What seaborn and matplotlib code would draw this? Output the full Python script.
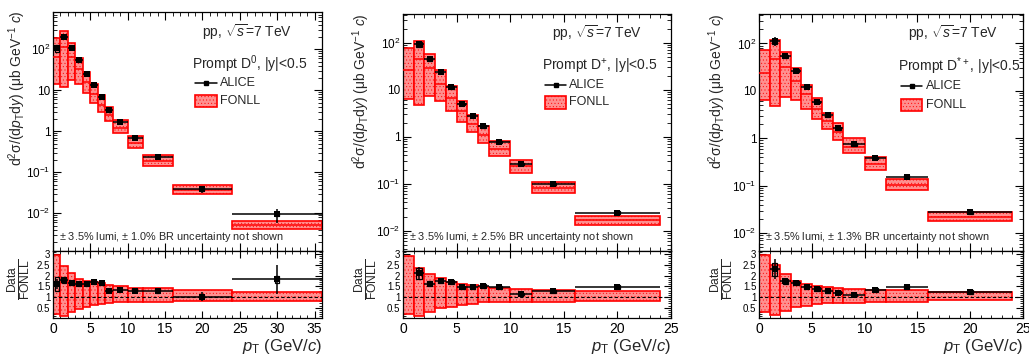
import numpy as np
import matplotlib
matplotlib.use('Agg')
import matplotlib.pyplot as plt
import seaborn as sns
from matplotlib.ticker import MultipleLocator, FixedLocator, FixedFormatter, LogLocator, NullFormatter
from matplotlib.patches import Rectangle
from matplotlib.lines import Line2D

# ---- D0 ----
d0_edges = [0, 1, 2, 3, 4, 5, 6, 7, 8, 10, 12, 16, 24, 36]
d0_val = [104, 200, 108, 53, 25.3, 13.6, 7.0, 3.2, 1.65, 0.68, 0.24, 0.038, 0.0094]
d0_stat = [0.15, 0.06, 0.05, 0.04, 0.04, 0.04, 0.04, 0.05, 0.05, 0.06, 0.08, 0.2, 0.38]
d0_syst = [0.2, 0.07, 0.06, 0.06, 0.06, 0.06, 0.06, 0.06, 0.06, 0.06, 0.07, 0.08, 0.1]
d0_fedges = d0_edges
d0_fc = [64, 111, 66, 33, 15.8, 8.0, 4.3, 2.46, 1.22, 0.52, 0.185, 0.037, 0.0052]
d0_fhi = [189, 276, 143, 61, 27.8, 13.9, 7.5, 3.86, 1.85, 0.75, 0.26, 0.05, 0.0065]
d0_flo = [14.4, 11.9, 18, 14.4, 8.7, 4.9, 2.9, 1.78, 0.91, 0.4, 0.143, 0.03, 0.0042]
d0_ratio = [1.62, 1.8, 1.64, 1.6, 1.6, 1.7, 1.64, 1.3, 1.35, 1.3, 1.3, 1.02, 1.82]
d0_rhi = [2.95, 2.45, 2.12, 1.86, 1.76, 1.7, 1.65, 1.55, 1.5, 1.44, 1.4, 1.33, 1.25]
d0_rlo = [0.23, 0.1, 0.28, 0.44, 0.55, 0.61, 0.67, 0.72, 0.75, 0.77, 0.77, 0.8, 0.82]

# ---- D+ ----
dp_edges = [1, 2, 3, 4, 5, 6, 7, 8, 10, 12, 16, 24]
dp_val = [94, 45.5, 23.7, 11.3, 4.97, 2.75, 1.66, 0.78, 0.26, 0.1, 0.0243]
dp_stat = [0.14, 0.07, 0.05, 0.04, 0.04, 0.05, 0.05, 0.05, 0.06, 0.07, 0.1]
dp_syst = [0.12, 0.08, 0.06, 0.06, 0.06, 0.06, 0.06, 0.06, 0.06, 0.06, 0.07]
dp_fedges = [0, 1, 2, 3, 4, 5, 6, 7, 8, 10, 12, 16, 24]
dp_fc = [26, 46, 28.4, 13.5, 6.7, 3.47, 1.89, 1.09, 0.56, 0.24, 0.082, 0.0168]
dp_fhi = [76, 109, 59, 26, 11.9, 5.7, 2.95, 1.69, 0.81, 0.316, 0.108, 0.021]
dp_flo = [6.3, 4.8, 7.3, 5.7, 3.5, 2.1, 1.25, 0.74, 0.385, 0.169, 0.063, 0.0134]
dp_ratio = [2.1, 1.63, 1.75, 1.69, 1.45, 1.45, 1.52, 1.45, 1.14, 1.27, 1.47]
dp_rhi = [2.92, 2.37, 2.08, 1.88, 1.72, 1.62, 1.55, 1.47, 1.44, 1.36, 1.31, 1.28]
dp_rlo = [0.22, 0.1, 0.3, 0.47, 0.53, 0.63, 0.68, 0.75, 0.78, 0.78, 0.78, 0.8]

# ---- D*+ ----
ds_edges = [1, 2, 3, 4, 5, 6, 7, 8, 10, 12, 16, 24]
ds_val = [112, 54, 26.8, 12.1, 5.8, 3.04, 1.62, 0.74, 0.386, 0.156, 0.0274]
ds_stat = [0.2, 0.05, 0.05, 0.04, 0.04, 0.04, 0.05, 0.05, 0.06, 0.07, 0.1]
ds_syst = [0.13, 0.07, 0.06, 0.06, 0.06, 0.06, 0.06, 0.06, 0.06, 0.06, 0.07]
ds_fedges = [0, 1, 2, 3, 4, 5, 6, 7, 8, 10, 12, 16, 24]
ds_fc = [24.3, 47, 32, 15.9, 8.45, 4.07, 2.26, 1.35, 0.65, 0.29, 0.105, 0.0222]
ds_fhi = [72, 117, 66, 30.5, 13.5, 6.9, 3.47, 2.06, 1.02, 0.4, 0.139, 0.0274]
ds_flo = [6.3, 4.8, 7.4, 6.3, 4.2, 2.5, 1.58, 0.93, 0.485, 0.215, 0.081, 0.0182]
ds_ratio = [2.3, 1.73, 1.65, 1.47, 1.38, 1.27, 1.2, 1.09, 1.33, 1.48, 1.23]
ds_rhi = [2.97, 2.48, 2.08, 1.77, 1.6, 1.5, 1.47, 1.42, 1.39, 1.35, 1.33, 1.24]
ds_rlo = [0.29, 0.14, 0.36, 0.52, 0.59, 0.67, 0.7, 0.74, 0.74, 0.79, 0.79, 0.85]

log_ticks = [1e-2, 1e-1, 1, 10, 100]
log_labels = ['$10^{-2}$', '$10^{-1}$', '1', '10', '$10^{2}$']

sns.set_style('ticks')
plt.rcParams['font.family'] = ['Liberation Sans', 'DejaVu Sans']
plt.rcParams['mathtext.fontset'] = 'custom'
plt.rcParams['mathtext.rm'] = 'Liberation Sans'
plt.rcParams['mathtext.it'] = 'Liberation Sans:italic'
plt.rcParams['mathtext.bf'] = 'Liberation Sans:bold'
plt.rcParams['hatch.linewidth'] = 0.3
plt.rcParams['axes.linewidth'] = 0.9

W, H = 1029, 358
fig = plt.figure(figsize=(W / 100, H / 100), dpi=100)

FILL = '#ff8f8f'


def style_axis(ax, xmax):
    ax.set_xlim(0, xmax)
    ax.tick_params(which='both', direction='in', top=True, right=True, colors='black')
    ax.tick_params(which='major', length=6, width=0.8)
    ax.tick_params(which='minor', length=3, width=0.6)
    ax.xaxis.set_major_locator(MultipleLocator(5))
    ax.xaxis.set_minor_locator(MultipleLocator(1))
    for s in ax.spines.values():
        s.set_visible(True)
        s.set_color('black')


def fonll_boxes(ax, edges, lo, hi, mid):
    e = np.array(edges, float)
    ax.bar(e[:-1], np.array(hi) - np.array(lo), bottom=lo, width=np.diff(e), align='edge',
           facecolor=FILL, edgecolor='red', hatch='.....', linewidth=1.2, zorder=2)
    if mid is not None:
        ax.hlines(mid, e[:-1], e[1:], color='red', lw=1.1, zorder=3)


def data_points(ax, edges, y, stat, syst):
    e = np.array(edges, float)
    x = (e[:-1] + e[1:]) / 2
    y = np.array(y, float)
    ax.errorbar(x, y, xerr=[x - e[:-1], e[1:] - x], yerr=y * np.array(stat),
                fmt='none', ecolor='black', elinewidth=1.1, capsize=0, zorder=5)
    ax.bar(x, 2 * y * np.array(syst), bottom=y * (1 - np.array(syst)), width=0.5,
           fill=False, edgecolor='black', linewidth=0.9, zorder=5)
    sns.scatterplot(x=x, y=y, ax=ax, marker='s', s=22, color='black', edgecolor='black',
                    linewidth=0, zorder=6, legend=False)


def panel(px0, px1, ptop, xmax, ylim, edges, val, stat, syst, fedges, fc, fhi, flo,
          ratio, rhi, rlo, species, note, leg, ylab_x, ylab_top, rlab_x):
    left = px0 / W
    width = (px1 - px0) / W
    ybot = 251
    ax = fig.add_axes([left, (H - ybot) / H, width, (ybot - ptop) / H])
    axr = fig.add_axes([left, (H - 318) / H, width, (318 - ybot) / H])

    # top panel: cross sections and FONLL boxes
    ax.set_yscale('log')
    fonll_boxes(ax, fedges, flo, fhi, fc)
    data_points(ax, edges, val, stat, syst)
    style_axis(ax, xmax)
    ax.set_ylim(*ylim)
    ax.yaxis.set_major_locator(FixedLocator(log_ticks))
    ax.yaxis.set_major_formatter(FixedFormatter(log_labels))
    ax.yaxis.set_minor_locator(LogLocator(base=10, subs=np.arange(2, 10)))
    ax.yaxis.set_minor_formatter(NullFormatter())
    ax.tick_params(axis='y', labelsize=8.5, pad=2)
    ax.tick_params(axis='x', labelbottom=False)
    ax.set_xlabel('')
    ax.set_ylabel('')

    lx, ly, lf, tx = leg
    ax.text(lx + 0.025, 0.918, r'pp, $\sqrt{s}$=7 TeV', transform=ax.transAxes,
            fontsize=10, va='center', ha='left')
    ax.text(lx - 0.01, 0.78, 'Prompt ' + species + ', |y|<0.5', transform=ax.transAxes,
            fontsize=10, va='center', ha='left')
    ax.add_line(Line2D([lx, lx + 0.08], [ly, ly], color='black', lw=1.1,
                       transform=ax.transAxes))
    ax.add_line(Line2D([lx + 0.04], [ly], marker='s', ms=3.5, color='black',
                       transform=ax.transAxes))
    ax.text(tx, ly, 'ALICE', transform=ax.transAxes, fontsize=9, va='center', ha='left')
    ax.add_patch(Rectangle((lx, lf - 0.026), 0.08, 0.052, transform=ax.transAxes,
                           facecolor=FILL, edgecolor='red', hatch='.....', lw=1.2))
    ax.text(tx, lf, 'FONLL', transform=ax.transAxes, fontsize=9, va='center', ha='left')
    ax.text(0.022, 0.058, note, transform=ax.transAxes, fontsize=7.8, va='center', ha='left')

    # ratio panel
    fe = np.array(fedges, float)
    axr.bar(fe[:-1], np.array(rhi) - np.array(rlo), bottom=rlo, width=np.diff(fe), align='edge',
            facecolor=FILL, edgecolor='red', hatch='.....', linewidth=1.2, zorder=2)
    axr.axhline(1, color='black', lw=0.8, ls=(0, (3, 2)), zorder=4)
    data_points(axr, edges, ratio, stat, syst)
    style_axis(axr, xmax)
    axr.set_ylim(0.02, 3.15)
    axr.yaxis.set_major_locator(FixedLocator([0.5, 1, 1.5, 2, 2.5, 3]))
    axr.yaxis.set_major_formatter(FixedFormatter(['0.5', '1', '1.5', '2', '2.5', '3']))
    axr.yaxis.set_minor_locator(MultipleLocator(0.1))
    axr.tick_params(axis='y', labelsize=7, pad=2)
    axr.tick_params(axis='x', labelsize=10, pad=3)
    axr.tick_params(which='major', length=5)
    axr.tick_params(which='minor', length=2.5)
    axr.set_xlabel('')
    axr.set_ylabel('')

    fig.text(ylab_x / W, 1 - ylab_top / H,
             r'd$^{2}$σ/(d$p_{\rm T}$d$y$) (μb GeV$^{-1}$ $c$)',
             rotation=90, ha='center', va='top', fontsize=10)
    fig.text(rlab_x / W, 1 - 279 / H, r'$\frac{\rm Data}{\rm FONLL}$', rotation=90,
             ha='center', va='center', fontsize=12.5)
    fig.text(px1 / W, 1 - 347 / H, r'$p_{\rm T}$ (GeV/$c$)', ha='right', va='center',
             fontsize=12)


panel(53, 322, 12, 36, (0.0012, 807), d0_edges, d0_val, d0_stat, d0_syst, d0_fedges,
      d0_fc, d0_fhi, d0_flo, d0_ratio, d0_rhi, d0_rlo, r'D$^{0}$',
      r'$\pm$ 3.5% lumi, $\pm$ 1.0% BR uncertainty not shown',
      (0.528, 0.703, 0.628, 0.621), 17, 10, 19)
panel(403, 671, 14, 25, (0.0037, 410), dp_edges, dp_val, dp_stat, dp_syst, dp_fedges,
      dp_fc, dp_fhi, dp_flo, dp_ratio, dp_rhi, dp_rlo, r'D$^{+}$',
      r'$\pm$ 3.5% lumi, $\pm$ 2.5% BR uncertainty not shown',
      (0.53, 0.70, 0.627, 0.619), 361, 13, 366)
panel(759, 1023, 14, 25, (0.0042, 417), ds_edges, ds_val, ds_stat, ds_syst, ds_fedges,
      ds_fc, ds_fhi, ds_flo, ds_ratio, ds_rhi, ds_rlo, r'D$^{*+}$',
      r'$\pm$ 3.5% lumi, $\pm$ 1.3% BR uncertainty not shown',
      (0.538, 0.696, 0.616, 0.633), 717, 13, 722)

fig.savefig('out.png', dpi=100, facecolor='white')
